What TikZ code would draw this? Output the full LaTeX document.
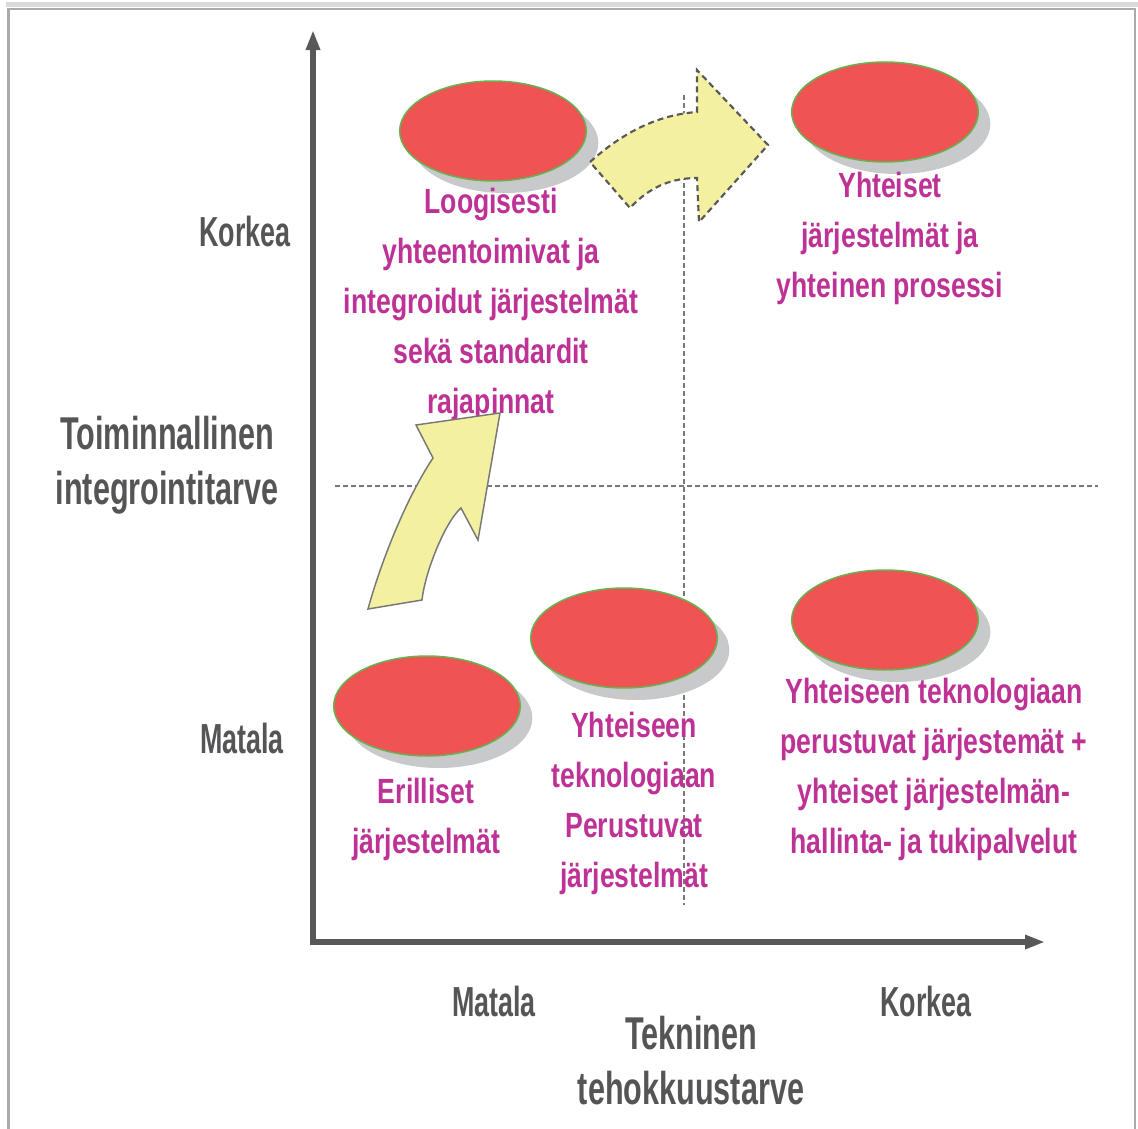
\documentclass[tikz,border=0pt]{standalone}
\usepackage{fontspec}
\setmainfont{Liberation Sans}
\newfontfamily\magfont{Liberation Sans}[FakeStretch=0.76]
\newfontfamily\greyfont{Liberation Sans}[FakeStretch=0.64]
\newfontfamily\titlefont{Liberation Sans}[FakeStretch=0.665]
\usetikzlibrary{shapes.geometric,shadows,arrows.meta}

\definecolor{magtxt}{RGB}{190,50,150}
\definecolor{greytxt}{RGB}{85,85,88}
\definecolor{axisgrey}{RGB}{88,88,90}
\definecolor{blobred}{RGB}{240,83,83}
\definecolor{blobgreen}{RGB}{100,180,80}
\definecolor{shadowgrey}{RGB}{200,201,203}
\definecolor{arrowyellow}{RGB}{243,240,160}
\definecolor{gridgrey}{RGB}{120,120,120}
\definecolor{framegrey}{RGB}{170,170,172}
\definecolor{bandgrey}{RGB}{218,218,220}

\begin{document}
\begin{tikzpicture}[x=0.75pt,y=-0.75pt,
  blob/.style={ellipse, fill=blobred, draw=blobgreen, line width=1.1pt,
    minimum width=140pt, minimum height=75pt, inner sep=0pt,
    drop shadow={shadow xshift=9pt, shadow yshift=-9pt, fill=shadowgrey, opacity=1}},
  magtext/.style={text=magtxt, align=center, inner sep=0pt,
    font=\magfont\bfseries\fontsize{26.25}{37.5}\selectfont},
  levellabel/.style={text=greytxt, inner sep=0pt,
    font=\greyfont\bfseries\fontsize{31.5}{38}\selectfont},
  axistitle/.style={text=greytxt, align=center, inner sep=0pt,
    font=\titlefont\bfseries\fontsize{34.5}{41.25}\selectfont},
  grid/.style={draw=gridgrey, line width=1.1pt, dash pattern=on 3.5pt off 2.5pt},
  axis/.style={draw=axisgrey, line width=3.8pt, line join=miter},
  bigarrow/.style={fill=arrowyellow, draw=gridgrey, line width=1.1pt, line join=miter},
  bigarrowdashed/.style={bigarrow, draw=axisgrey, line width=1.6pt, dash pattern=on 4.5pt off 3pt}
]
\useasboundingbox (0,0) rectangle (1138,1128);
\fill[white] (0,0) rectangle (1138,1128);

% frame
\fill[bandgrey] (6,2) rectangle (1138,6.5);
\draw[framegrey, line width=1.6pt] (8.5,1140) -- (8.5,9) -- (1135,9) -- (1135,1140);

% quadrant guides
\coordinate (hgA) at (335,486);
\coordinate (hgB) at (1098,486);
\coordinate (vgA) at (684,95);
\coordinate (vgB) at (684,905);
\draw[grid] (hgA) -- (hgB);
\draw[grid] (vgA) -- (vgB);

% system blobs
\node[blob] (b1) at (493,131) {};
\node[blob] (b2) at (885,112) {};
\node[blob] (b3) at (427,706) {};
\node[blob] (b4) at (624,638) {};
\node[blob] (b5) at (885,620) {};

% blob captions
\node[magtext] (t1) at (491,304) {Loogisesti\\yhteentoimivat ja\\integroidut järjestelmät\\sekä standardit\\rajapinnat};
\node[magtext] (t2) at (890,238) {Yhteiset\\järjestelmät ja\\yhteinen prosessi};
\node[magtext] (t3) at (426,819) {Erilliset\\järjestelmät};
\node[magtext] (t4) at (634,803) {Yhteiseen\\teknologiaan\\Perustuvat\\järjestelmät};
\node[magtext] (t5) at (934,769) {Yhteiseen teknologiaan\\perustuvat järjestemät +\\yhteiset järjestelmän-\\hallinta- ja tukipalvelut};

% development arrows
\filldraw[bigarrow] (368,609) .. controls (380,565) and (405,500) .. (433,458)
  -- (416,425) -- (500,413) -- (478,540) -- (461,508)
  .. controls (445,522) and (425,572) .. (422,600) -- cycle;
\filldraw[bigarrowdashed] (590,162) .. controls (620,135) and (655,115) .. (697,112)
  -- (697,70) -- (768,145) -- (699,222) -- (697,178)
  .. controls (665,178) and (645,192) .. (630,208) -- cycle;

% axes
\coordinate (ytop) at (313,30);
\coordinate (origin) at (313,942);
\coordinate (xend) at (1045,942);
\draw[axis, {Triangle[length=15pt,width=10pt]}-{Triangle[length=15pt,width=10pt]}]
  (ytop) -- (origin) -- (xend);

% axis level labels
\node[levellabel] (yhigh) at (245,231) {Korkea};
\node[levellabel] (ylow) at (242,738) {Matala};
\node[levellabel] (xlow) at (494,1001) {Matala};
\node[levellabel] (xhigh) at (926,1001) {Korkea};

% axis titles
\node[axistitle] (ytitle) at (167,465) {Toiminnallinen\\integrointitarve};
\node[axistitle] (xtitle) at (691,1061) {Tekninen\\tehokkuustarve};
\end{tikzpicture}
\end{document}
